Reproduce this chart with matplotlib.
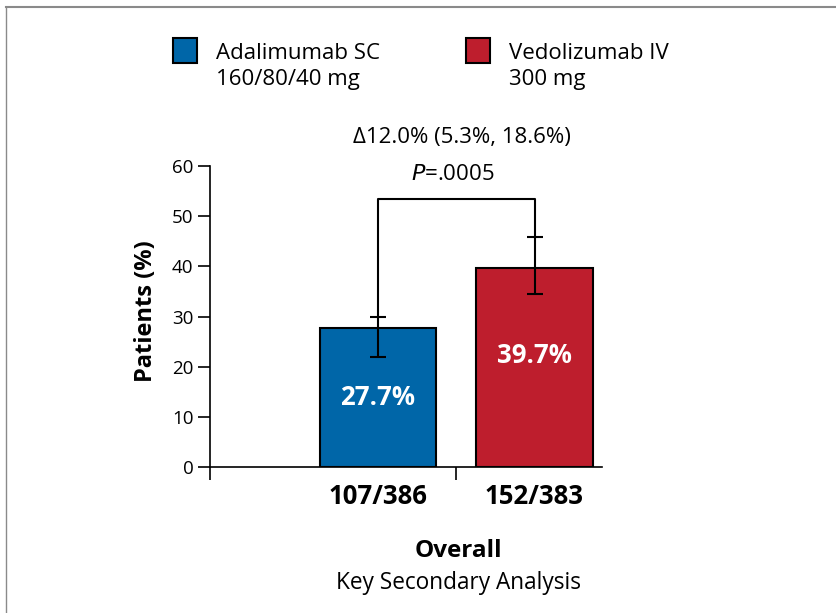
import matplotlib
matplotlib.use("Agg")
import matplotlib.pyplot as plt
from matplotlib.lines import Line2D
from matplotlib.patches import Rectangle

plt.rcParams['font.family'] = ['Open Sans', 'DejaVu Sans']

# Data
groups = [["Adalimumab SC", "160/80/40 mg"], ["Vedolizumab IV", "300 mg"]]
values = [27.7, 39.7]
ci_low = [22.0, 34.5]
ci_high = [30.0, 45.8]
counts = ["107/386", "152/383"]
value_labels = ["27.7%", "39.7%"]
colors = ["#0066A8", "#BE1E2D"]
yticks = [0, 10, 20, 30, 40, 50, 60]
delta_text = "Δ12.0% (5.3%, 18.6%)"
p_text = "$\\mathit{P}$=.0005"
bracket_top = 53.4

W, H = 836, 613
fig = plt.figure(figsize=(W / 100, H / 100), dpi=100)

# Frame lines (top and left)
fig.add_artist(Line2D([6 / W, 1], [1 - 7 / H, 1 - 7 / H], color="#8a8a8a", lw=1.5))
fig.add_artist(Line2D([6 / W, 6 / W], [0, 1 - 7 / H], color="#8a8a8a", lw=1.0))

left, right, bottom, top = 210, 602, 467, 166
ax = fig.add_axes([left / W, 1 - bottom / H, (right - left) / W, (bottom - top) / H])

x = [0, 1]
width = 0.745
xl = (-1.073, 1.431)
ax.bar(x, values, width=width, color=colors, edgecolor="black", linewidth=1.5, zorder=2)
yerr = [[v - l for v, l in zip(values, ci_low)], [h - v for v, h in zip(values, ci_high)]]
ax.errorbar(x, values, yerr=yerr, fmt="none", ecolor="black", elinewidth=1.5,
            capsize=5.5, capthick=1.5, zorder=3)

# bracket
ax.plot([x[0], x[0], x[1], x[1]], [ci_high[0], bracket_top, bracket_top, ci_high[1]],
        color="black", lw=1.5, zorder=3, clip_on=False)

label_y = [13.9, 22.3]
for xi, lab, ly in zip(x, value_labels, label_y):
    ax.text(xi, ly, lab, color="white", fontsize=18.5, fontweight="bold",
            ha="center", va="center")

ax.set_xlim(*xl)
ax.set_ylim(0, 60)
ax.set_yticks(yticks)
ax.tick_params(axis="y", labelsize=13.5, length=9, width=1.2, pad=3)
ax.set_xticks([xl[0], 0.5])
ax.set_xticklabels([])
ax.tick_params(axis="x", length=9, width=1.2, direction="out")
for s in ["top", "right"]:
    ax.spines[s].set_visible(False)
for s in ["left", "bottom"]:
    ax.spines[s].set_linewidth(1.2)
ax.set_ylabel("Patients (%)", fontsize=17, fontweight="bold")
ax.yaxis.set_label_coords(-0.133, 0.518)

# text annotations in figure pixel coords
def ft(px, py, s, **kw):
    fig.text(px / W, 1 - py / H, s, **kw)

ft(462, 138, delta_text, fontsize=16, ha="center", va="center")
ft(453, 174, p_text, fontsize=16, ha="center", va="center")

for xi, c in zip(x, counts):
    px = 378 + xi * 156.5
    ft(px, 497, c, fontsize=18.5, fontweight="bold", ha="center", va="center")

ft(458, 551, "Overall", fontsize=17.5, fontweight="bold", ha="center", va="center")
ft(458, 583, "Key Secondary Analysis", fontsize=16.3, ha="center", va="center")

# legend
leg_x = [173, 466]
for lx, g, c in zip(leg_x, groups, colors):
    fig.add_artist(Rectangle((lx / W, 1 - 63 / H), 24 / W, 25 / H, facecolor=c,
                             edgecolor="black", linewidth=1.5, transform=fig.transFigure))
    ft(lx + 43, 59, g[0], fontsize=16, ha="left", va="baseline")
    ft(lx + 43, 85, g[1], fontsize=16, ha="left", va="baseline")

fig.savefig("out.png", dpi=100)
